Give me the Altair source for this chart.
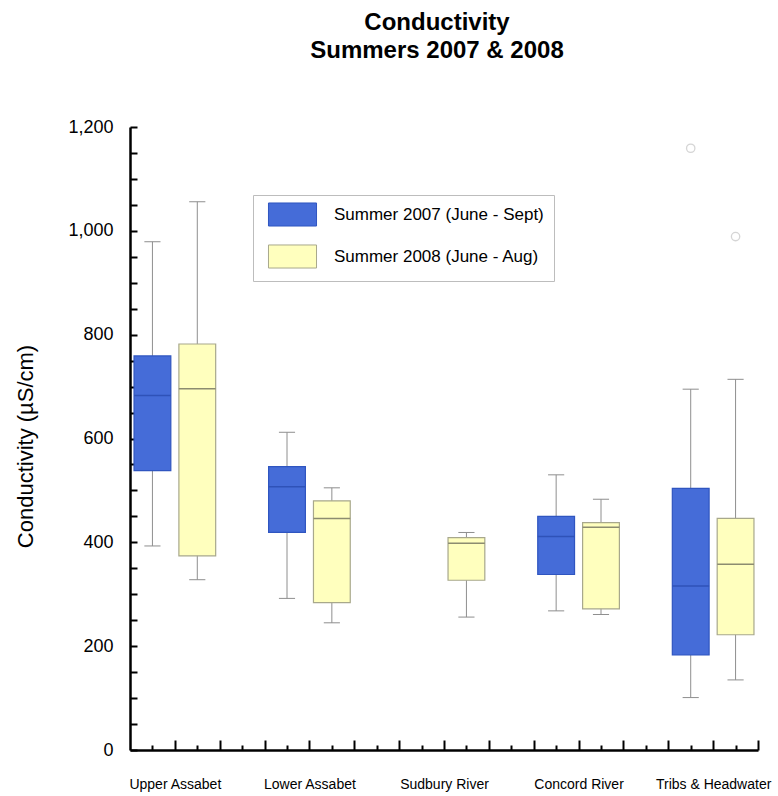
import altair as alt
import pandas as pd

categories = ["Upper Assabet", "Lower Assabet", "Sudbury River", "Concord River", "Tribs & Headwater"]
seasons = ["Summer 2007 (June - Sept)", "Summer 2008 (June - Aug)"]

# Summer 2007 box-plot statistics (µS/cm); Sudbury River has no 2007 box
lo_2007 = [393, 292, None, 268, 101]
q1_2007 = [538, 419, None, 338, 183]
med_2007 = [683, 507, None, 411, 316]
q3_2007 = [759, 546, None, 450, 504]
hi_2007 = [979, 612, None, 530, 695]

# Summer 2008 box-plot statistics (µS/cm)
lo_2008 = [328, 245, 256, 261, 135]
q1_2008 = [374, 284, 327, 272, 222]
med_2008 = [696, 446, 398, 429, 358]
q3_2008 = [782, 480, 409, 438, 446]
hi_2008 = [1056, 505, 419, 483, 714]

# outliers
outlier_category = ["Tribs & Headwater", "Tribs & Headwater"]
outlier_season = [seasons[0], seasons[1]]
outlier_value = [1159, 989]

y_ticks = list(range(0, 1201, 50))
x_ticks = list(range(1, 29))

fills = ["#456cd8", "#ffffbe"]
strokes = ["#2f55c0", "#a8a88c"]
medians = ["#2f52b8", "#8c8c70"]

rows = []
stats = {
    seasons[0]: (lo_2007, q1_2007, med_2007, q3_2007, hi_2007),
    seasons[1]: (lo_2008, q1_2008, med_2008, q3_2008, hi_2008),
}
for si, s in enumerate(seasons):
    lo, q1, med, q3, hi = stats[s]
    for ci, c in enumerate(categories):
        if lo[ci] is None:
            continue
        rows.append(dict(category=c, cat_idx=ci, season=s, season_idx=si,
                         lo=lo[ci], q1=q1[ci], med=med[ci], q3=q3[ci], hi=hi[ci]))
df = pd.DataFrame(rows)

df_out = pd.DataFrame(dict(
    category=outlier_category,
    cat_idx=[categories.index(c) for c in outlier_category],
    season=outlier_season,
    season_idx=[seasons.index(s) for s in outlier_season],
    value=outlier_value,
))

label_expr = " : ".join(
    f"datum.value == {2 + 6 * i} ? '{c}'" for i, c in enumerate(categories)
) + " : ''"

xs = alt.Scale(domain=[0, 28], nice=False, zero=False)
ys = alt.Scale(domain=[0, 1200], nice=False)

xaxis = alt.Axis(
    values=x_ticks,
    tickSize=alt.ExprRef("datum.value % 2 === 0 ? -10 : -5"),
    tickWidth=2, tickColor="black",
    domainColor="black", domainWidth=2.5,
    labelExpr=label_expr, labelFont="Liberation Sans", labelFontSize=14,
    labelColor="black", labelPadding=37, labelOverlap=False, labelFlush=False,
    labelAngle=0, title=None,
)
yaxis = alt.Axis(
    values=y_ticks,
    tickSize=alt.ExprRef("-7"),
    tickWidth=2, tickColor="black",
    domainColor="black", domainWidth=2.5,
    labelExpr="datum.value % 200 === 0 ? format(datum.value, ',') : ''",
    labelFont="Liberation Sans", labelFontSize=18, labelColor="black",
    labelPadding=24, labelOverlap=False, labelFlush=False,
    title="Conductivity (µS/cm)", titleFont="Liberation Sans", titleFontSize=22,
    titleFontWeight="normal", titleColor="black",
    titleX=-105, titleY=319, titleBaseline="middle",
)

base = alt.Chart(df).transform_calculate(
    pos="1 + 6 * datum.cat_idx + 2 * datum.season_idx",
).transform_calculate(
    bl="datum.pos - 0.82", br="datum.pos + 0.82",
    cl="datum.pos - 0.36", cr="datum.pos + 0.36",
)

whisker = base.mark_rule(color="#8e8e8e", strokeWidth=1).encode(
    x=alt.X("pos:Q", scale=xs, axis=xaxis),
    y=alt.Y("lo:Q", scale=ys, axis=yaxis),
    y2="hi:Q",
)
cap_hi = base.mark_rule(color="#8e8e8e", strokeWidth=1).encode(
    x=alt.X("cl:Q", scale=xs, axis=xaxis), x2="cr:Q",
    y=alt.Y("hi:Q", scale=ys, axis=yaxis),
)
cap_lo = base.mark_rule(color="#8e8e8e", strokeWidth=1).encode(
    x=alt.X("cl:Q", scale=xs, axis=xaxis), x2="cr:Q",
    y=alt.Y("lo:Q", scale=ys, axis=yaxis),
)
box = base.mark_rect(strokeWidth=1.2).encode(
    x=alt.X("bl:Q", scale=xs, axis=xaxis), x2="br:Q",
    y=alt.Y("q1:Q", scale=ys, axis=yaxis), y2="q3:Q",
    fill=alt.Fill("season:N", scale=alt.Scale(domain=seasons, range=fills),
                  legend=alt.Legend(
                      title=None, orient="none", legendX=123, legendY=68,
                      direction="vertical",
                      strokeColor="#bdbdbd", fillColor="white", padding=10,
                      symbolType="M-2.67,-1.28H2.67V1.28H-2.67Z", symbolSize=324,
                      symbolStrokeColor="#9a9a9a", symbolStrokeWidth=1,
                      symbolOpacity=1, symbolOffset=20,
                      labelFont="Liberation Sans", labelFontSize=17,
                      labelColor="black", labelOffset=32, rowPadding=13,
                      labelLimit=400,
                  )),
    stroke=alt.Stroke("season:N", scale=alt.Scale(domain=seasons, range=strokes), legend=None),
)
median = base.mark_rule(strokeWidth=1.5).encode(
    x=alt.X("bl:Q", scale=xs, axis=xaxis), x2="br:Q",
    y=alt.Y("med:Q", scale=ys, axis=yaxis),
    color=alt.Color("season:N", scale=alt.Scale(domain=seasons, range=medians), legend=None),
)
outliers = alt.Chart(df_out).transform_calculate(
    pos="1 + 6 * datum.cat_idx + 2 * datum.season_idx",
).mark_point(shape="circle", filled=False, size=70, color="#c4c4c4", strokeWidth=1.3).encode(
    x=alt.X("pos:Q", scale=xs, axis=xaxis),
    y=alt.Y("value:Q", scale=ys, axis=yaxis),
)

chart = alt.layer(whisker, cap_hi, cap_lo, box, median, outliers).properties(
    width=628, height=623,
    autosize=alt.AutoSizeParams(type="none"),
    padding={"left": 130, "top": 127, "right": 20, "bottom": 46},
    background="white",
    title=alt.Title(
        ["Conductivity", "Summers 2007 & 2008"],
        fontSize=24, font="Liberation Sans", fontWeight="bold", color="black",
        anchor="middle", offset=55, lineHeight=28, dx=-7,
    ),
).configure_view(stroke=None).configure_axis(grid=False)

chart.save("out.html", embed_options={"renderer": "svg", "actions": False})
